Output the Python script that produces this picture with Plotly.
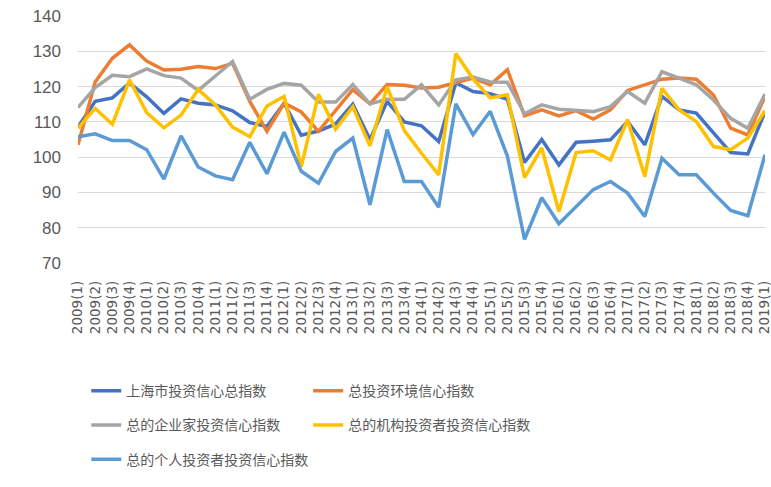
import plotly.graph_objects as go

# quarterly labels 2009(1) .. 2019(1)
quarters = [f"{y}({q})" for y in range(2009, 2019) for q in range(1, 5)] + ["2019(1)"]

total_index = [108.5, 115.8, 116.8, 121.0, 117.1, 112.4, 116.5, 115.3, 114.8, 113.1,
               109.8, 108.7, 115.3, 106.2, 107.4, 109.4, 115.0, 105.0, 115.8, 110.0,
               108.9, 104.4, 121.1, 118.6, 118.0, 116.4, 98.5, 105.0, 97.8, 104.2,
               104.5, 104.9, 110.1, 103.5, 117.2, 113.4, 112.5, 106.8, 101.3, 100.9,
               112.9]
environment_index = [103.5, 121.3, 128.0, 131.8, 127.2, 124.7, 124.9, 125.7, 125.1, 126.6,
                     115.8, 107.3, 115.3, 112.8, 107.3, 113.2, 119.1, 115.1, 120.6, 120.4,
                     119.6, 119.8, 121.0, 122.4, 120.5, 124.8, 111.7, 113.4, 111.7, 113.2,
                     110.8, 113.4, 118.9, 120.5, 122.1, 122.4, 122.1, 117.6, 108.2, 106.3,
                     117.2]
entrepreneur_index = [114.1, 119.7, 123.2, 122.8, 125.0, 123.1, 122.4, 118.9, 123.0, 127.1,
                      116.4, 119.2, 120.9, 120.4, 115.6, 115.6, 120.6, 115.1, 116.4, 116.4,
                      120.5, 114.8, 121.9, 122.7, 121.3, 121.2, 112.3, 114.8, 113.6, 113.2,
                      112.9, 114.3, 118.6, 115.3, 124.2, 122.4, 120.5, 116.2, 111.0, 108.2,
                      117.9]
institution_index = [108.2, 113.8, 109.3, 121.9, 112.6, 108.3, 111.9, 119.2, 114.8, 108.5,
                     105.8, 114.5, 117.2, 97.3, 117.8, 107.9, 114.3, 103.2, 119.9, 107.5,
                     101.1, 95.0, 129.4, 122.2, 116.8, 117.7, 94.2, 102.6, 84.6, 101.3,
                     101.8, 99.2, 110.6, 94.5, 119.5, 113.4, 110.1, 103.0, 102.1, 105.4,
                     113.2]
individual_index = [105.8, 106.6, 104.7, 104.7, 102.1, 93.8, 106.0, 97.2, 94.7, 93.6,
                    104.2, 95.3, 107.1, 96.0, 92.6, 101.6, 105.4, 86.5, 107.8, 93.1,
                    93.1, 85.8, 115.1, 106.4, 113.0, 100.3, 76.7, 88.5, 81.1, 86.0,
                    90.8, 93.1, 89.8, 83.2, 99.7, 95.0, 95.0, 89.8, 84.9, 83.4,
                    100.7]

series = [
    ("上海市投资信心总指数", total_index, "#4472C4", "legend"),
    ("总投资环境信心指数", environment_index, "#ED7D31", "legend2"),
    ("总的企业家投资信心指数", entrepreneur_index, "#A5A5A5", "legend"),
    ("总的机构投资者投资信心指数", institution_index, "#FFC000", "legend2"),
    ("总的个人投资者投资信心指数", individual_index, "#5B9BD5", "legend"),
]

fig = go.Figure()
for name, vals, color, leg in series:
    fig.add_trace(go.Scatter(
        x=quarters, y=vals, name=name, mode="lines",
        line=dict(color=color, width=3.5),
        legend=leg, legendgroup=name,
    ))

legend_style = dict(
    orientation="v", xanchor="left", yanchor="top",
    font=dict(family="Noto Sans CJK SC", size=14, color="#595959"),
    bgcolor="rgba(0,0,0,0)", tracegroupgap=13,
)

fig.update_layout(
    width=771, height=487,
    margin=dict(l=78, r=6, t=16, b=224, autoexpand=False),
    paper_bgcolor="white", plot_bgcolor="white",
    font=dict(family="Liberation Sans", color="#595959"),
    showlegend=True,
    legend=dict(x=0.012, y=-0.454, **legend_style),
    legend2=dict(x=0.335, y=-0.454, **legend_style),
    xaxis=dict(
        type="category", tickangle=-90, showgrid=False,
        tickmode="array", tickvals=quarters, ticktext=quarters,
        tickfont=dict(family="DejaVu Sans", size=13.5, color="#595959"),
        ticklabelstandoff=14, showline=False, zeroline=False, automargin=False,
    ),
    yaxis=dict(
        range=[70, 140], dtick=10, showgrid=True, gridcolor="#D9D9D9",
        gridwidth=1, zeroline=False, showline=False, automargin=False,
        tickfont=dict(size=17, color="#595959"), ticklabelstandoff=16,
    ),
)

# the page body has a default 8px margin; drop it so the figure sits at 0,0
fig.write_html("out.html", config={"displayModeBar": False},
               post_script="document.body.style.margin='0';")
